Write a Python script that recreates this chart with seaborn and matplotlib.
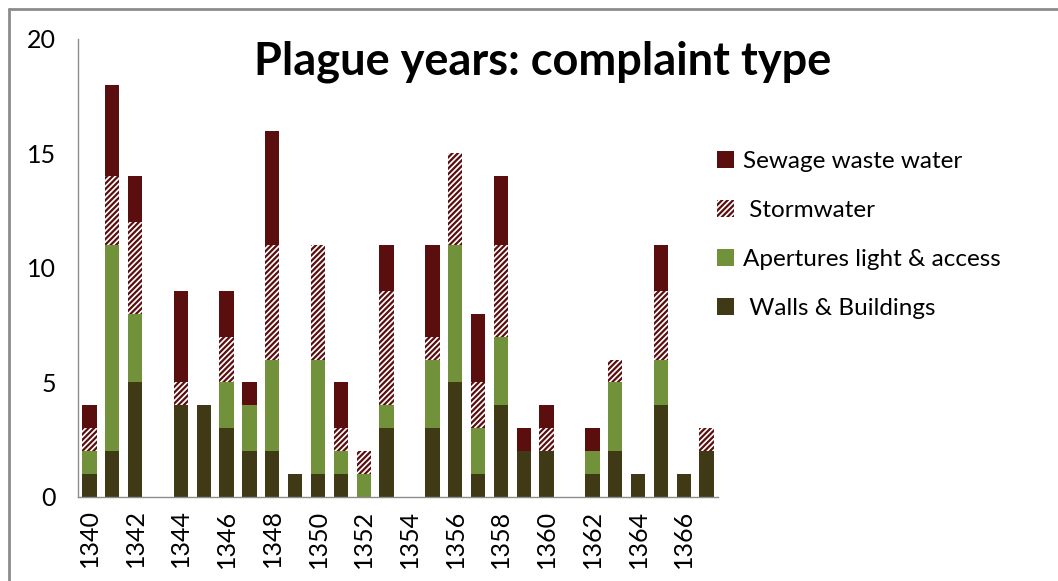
import numpy as np
import pandas as pd
import matplotlib
matplotlib.use("Agg")
import matplotlib.pyplot as plt
from matplotlib.patches import Patch
from matplotlib.lines import Line2D
import seaborn as sns

# complaint counts per year
years = list(range(1340, 1368))
walls = [1, 2, 5, 0, 4, 4, 3, 2, 2, 1, 1, 1, 0, 3, 0, 3, 5, 1, 4, 2, 2, 0, 1, 2, 1, 4, 1, 2]
apertures = [1, 9, 3, 0, 0, 0, 2, 2, 4, 0, 5, 1, 1, 1, 0, 3, 6, 2, 3, 0, 0, 0, 1, 3, 0, 2, 0, 0]
stormwater = [1, 3, 4, 0, 1, 0, 2, 0, 5, 0, 5, 1, 1, 5, 0, 1, 4, 2, 4, 0, 1, 0, 0, 1, 0, 3, 0, 1]
sewage = [1, 4, 2, 0, 4, 0, 2, 1, 5, 0, 0, 2, 0, 2, 0, 4, 0, 3, 3, 1, 1, 0, 1, 0, 0, 2, 0, 0]

c_walls = "#403916"
c_apert = "#71923a"
c_sewage = "#5a0e0e"

sns.set_style("white")
plt.rcParams["font.family"] = ["Lato", "DejaVu Sans"]
plt.rcParams["hatch.linewidth"] = 1.6
plt.rcParams["text.color"] = "black"
plt.rcParams["xtick.labelcolor"] = "black"
plt.rcParams["ytick.labelcolor"] = "black"

df = pd.DataFrame({"year": [str(y) for y in years]})
df["walls"] = walls
df["apert"] = df["walls"] + np.array(apertures)
df["storm"] = df["apert"] + np.array(stormwater)
df["sewage"] = df["storm"] + np.array(sewage)
order = df["year"].tolist()

fig = plt.figure(figsize=(10.58, 5.81), dpi=100)
ax = fig.add_axes([0.0737, 0.1446, 0.605, 0.7883])

w = 0.63
sns.barplot(data=df, x="year", y="sewage", order=order, color=c_sewage,
            width=w, linewidth=0, saturation=1, ax=ax)
sns.barplot(data=df, x="year", y="storm", order=order, color="white",
            width=w, edgecolor=c_sewage, linewidth=0, hatch="//////",
            saturation=1, ax=ax)
sns.barplot(data=df, x="year", y="apert", order=order, color=c_apert,
            width=w, linewidth=0, saturation=1, ax=ax)
sns.barplot(data=df, x="year", y="walls", order=order, color=c_walls,
            width=w, linewidth=0, saturation=1, ax=ax)

ax.set_xlim(-0.5, len(years) - 0.5)
ax.set_ylim(0, 20)
ax.set_yticks([0, 5, 10, 15, 20])
ax.set_xlabel("")
ax.set_ylabel("")

ax.set_xticks(range(0, len(years), 2))
ax.set_xticklabels([order[i] for i in range(0, len(years), 2)], rotation=90)
ax.set_xticks(np.arange(-0.5, len(years), 1), minor=True)
ax.tick_params(axis="x", which="major", length=0, labelsize=18, pad=9)
ax.tick_params(axis="x", which="minor", length=7, color="#8c8c8c", width=1)
ax.tick_params(axis="y", length=8, color="#8c8c8c", width=1, labelsize=18, pad=8)

for s in ["top", "right"]:
    ax.spines[s].set_visible(False)
for s in ["left", "bottom"]:
    ax.spines[s].set_color("#8c8c8c")
    ax.spines[s].set_linewidth(1)

fig.text(0.513, 0.893, "Plague years: complaint type", ha="center", va="center",
         fontsize=32.5, fontweight="bold", color="black")

handles = [
    Patch(facecolor=c_sewage, edgecolor=c_sewage, linewidth=0),
    Patch(facecolor="white", edgecolor=c_sewage, hatch="//////", linewidth=0),
    Patch(facecolor=c_apert, linewidth=0),
    Patch(facecolor=c_walls, linewidth=0),
]
labels = ["Sewage waste water", " Stormwater", "Apertures light & access", " Walls & Buildings"]
fig.legend(handles, labels, loc="upper left", bbox_to_anchor=(0.657, 0.778),
           frameon=False, fontsize=17.5, handlelength=0.7, handleheight=0.7,
           handletextpad=0.35, labelspacing=1.15)

# chart area border (top and left visible)
fig.add_artist(Line2D([0.0085, 1.0], [0.984, 0.984], color="#8c8c8c", lw=2,
                      transform=fig.transFigure))
fig.add_artist(Line2D([0.0085, 0.0085], [0.0, 0.984], color="#8c8c8c", lw=2,
                      transform=fig.transFigure))

fig.savefig("out.png", dpi=100)
